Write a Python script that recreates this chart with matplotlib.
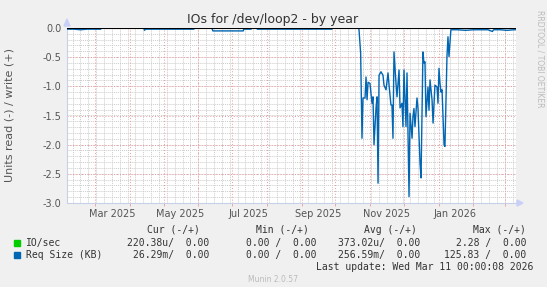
import numpy as np
import matplotlib
matplotlib.use('Agg')
import matplotlib.pyplot as plt
from matplotlib.patches import Rectangle

# days counted from the left edge of the graph (2025-02-04), 400 days shown
start = np.datetime64('2025-02-04')
n_days = 400

# Req Size (KB), read side (drawn negative)
req_days = [0, 6, 12, 18, 24, 30, 30.5, 68.5, 69, 70, 80, 90, 100, 113, 113.5,
            129, 130, 140, 150, 157, 157.5, 164, 164.5, 169, 169.5, 185, 200,
            215, 236, 236.5, 259.5,
            260.1, 261.6, 262.8, 263.7, 265.5, 266.4, 267.3, 268.2, 269.9,
            271.7, 272.6, 273.5, 275.3, 276.2, 277.1, 278.0, 279.7, 281.5,
            282.4, 284.2, 286.0, 286.9, 288.6, 289.5, 290.4, 291.3, 293.1,
            294.0, 295.8, 296.7, 298.4, 299.3, 300.2, 302.0, 302.9, 304.7,
            305.6, 307.4, 308.2, 309.1, 310.0, 311.8, 312.7, 314.5, 315.4,
            317.1, 318.0, 318.9, 319.8, 321.6, 322.5, 323.4, 325.2, 326.1,
            327.8, 329.6, 330.5, 331.4, 332.3, 333.2, 334.1, 335.9, 336.7,
            338.5, 339.4, 340.3,
            342, 348, 355, 362, 368, 375, 379, 380, 386, 392, 398, 400]
req_read = [0.02, 0.02, 0.03, 0.02, 0.02, 0.02, 0, 0, 0.04, 0.02, 0.02, 0.02,
            0.02, 0.02, 0, 0, 0.05, 0.05, 0.05, 0.05, 0.02, 0.02, 0, 0, 0.02,
            0.02, 0.02, 0.02, 0.02, 0, 0,
            0.02, 0.43, 1.89, 1.20, 1.20, 0.84, 1.23, 0.93, 0.95,
            1.29, 1.18, 2.00, 1.37, 1.18, 2.66, 0.81, 0.75, 0.81,
            0.98, 1.06, 0.77, 0.98, 1.32, 1.32, 1.89, 0.41, 0.95,
            1.18, 0.72, 1.37, 1.29, 1.69, 0.72, 1.69, 0.77, 2.89,
            1.46, 1.89, 1.52, 1.38, 1.69, 1.20, 1.38, 2.32, 2.57,
            0.41, 0.60, 0.58, 1.52, 1.01, 1.41, 0.89, 1.23, 1.63,
            0.98, 1.01, 1.29, 0.69, 0.95, 1.10, 1.06, 2.00, 2.03,
            0.49, 0.15, 0.49,
            0.03, 0.03, 0.04, 0.03, 0.03, 0.03, 0.06, 0.03, 0.03, 0.04, 0.03, 0.03]

# IO/sec, read side (mostly hidden behind the zero line)
io_days = [0, 289, 290, 291, 302.5, 303.5, 304.5, 400]
io_read = [0, 0, 0.01, 0, 0, 0.01, 0, 0]

y_ticks = [0.0, -0.5, -1.0, -1.5, -2.0, -2.5, -3.0]
month_labels = ['Mar 2025', 'May 2025', 'Jul 2025', 'Sep 2025', 'Nov 2025', 'Jan 2026']

legend_rows = [
    ('IO/sec', '#00CC00', '220.38u/  0.00', '0.00 /  0.00', '373.02u/  0.00', '2.28 /  0.00'),
    ('Req Size (KB)', '#0066B3', '26.29m/  0.00', '0.00 /  0.00', '256.59m/  0.00', '125.83 /  0.00'),
]

W, H = 547, 287
fig = plt.figure(figsize=(W / 100, H / 100), dpi=100)
fig.patch.set_facecolor('#F0F0F0')
ax = fig.add_axes([67 / W, 1 - 203 / H, (516 - 67) / W, 175 / H])
ax.set_facecolor('#FFFFFF')

# grid: weekly minor, monthly major
months = np.arange(np.datetime64('2025-03'), np.datetime64('2026-04'), dtype='datetime64[M]')
month_days = (months.astype('datetime64[D]') - start).astype(float)
for d in np.arange(5, n_days, 7):
    ax.axvline(d, color='#CCCCCC', lw=0.7, ls=(0, (1, 1)), zorder=0)
for v in np.arange(-2.9, 0, 0.1):
    ax.axhline(v, color='#CCCCCC', lw=0.7, ls=(0, (1, 1)), zorder=0)
for d in month_days:
    ax.axvline(d, color='#EE9999', lw=0.7, ls=(0, (1, 2)), zorder=0.5)
for v in y_ticks[1:-1]:
    ax.axhline(v, color='#EE9999', lw=0.7, ls=(0, (1, 2)), zorder=0.5)

ax.plot(io_days, -np.array(io_read), color='#00CC00', lw=1, zorder=2)
ax.plot(req_days, -np.array(req_read), color='#0066B3', lw=1, zorder=3)
ax.axhline(0, color='black', lw=0.8, zorder=4)

ax.set_xlim(0, n_days)
ax.set_ylim(-3.0, 0.0)
ax.set_yticks(y_ticks, ['%.1f' % v for v in y_ticks])
label_pos = month_days[::2][:len(month_labels)] + 15
ax.set_xticks(label_pos, month_labels)
ax.tick_params(axis='both', length=0, labelsize=7, labelcolor='#555555', pad=4)
ax.set_xticks(month_days, minor=True)
ax.tick_params(axis='x', which='minor', length=2, color='#EE9999', direction='out')
for s in ['top', 'right']:
    ax.spines[s].set_visible(False)
for s in ['left', 'bottom']:
    ax.spines[s].set_color('#C8D0E8')
    ax.spines[s].set_linewidth(0.8)

# small arrowheads at the axis ends
fig.add_artist(plt.Polygon([[64 / W, 1 - 26 / H], [70 / W, 1 - 26 / H], [67 / W, 1 - 19 / H]],
                           closed=True, color='#C8D0F8', transform=fig.transFigure))
fig.add_artist(plt.Polygon([[517 / W, 1 - 200 / H], [517 / W, 1 - 206 / H], [523 / W, 1 - 203 / H]],
                           closed=True, color='#C8D0F8', transform=fig.transFigure))

fig.text(273 / W, 1 - 20 / H, 'IOs for /dev/loop2 - by year', ha='center', va='center',
         fontsize=9, color='#333333')
fig.text(10 / W, 1 - 115 / H, 'Units read (-) / write (+)', rotation=90, ha='center',
         va='center', fontsize=8, color='#555555')
fig.text(540 / W, 1 - 10 / H, 'RRDTOOL / TOBI OETIKER', rotation=270, ha='center',
         va='top', fontsize=5.5, color='#BBBBBB')

mono = dict(family='DejaVu Sans Mono', fontsize=7, color='#333333', va='center')
col_right = [200, 309, 417, 526]
headers = ['Cur (-/+)', 'Min (-/+)', 'Avg (-/+)', 'Max (-/+)']
for x, h in zip(col_right, headers):
    fig.text(x / W, 1 - 230 / H, h, ha='right', **mono)
for i, row in enumerate(legend_rows):
    y = 243 + i * 12
    name, color = row[0], row[1]
    fig.add_artist(Rectangle((14 / W, 1 - (y + 3) / H), 6 / W, 6 / H, color=color,
                             transform=fig.transFigure))
    fig.text(26 / W, 1 - y / H, name, ha='left', **mono)
    for x, val in zip([209, 316, 420, 526], row[2:]):
        fig.text(x / W, 1 - y / H, val, ha='right', **mono)
fig.text(533 / W, 1 - 267 / H, 'Last update: Wed Mar 11 00:00:08 2026', ha='right', **mono)
fig.text(273 / W, 1 - 280 / H, 'Munin 2.0.57', ha='center', va='center', fontsize=5.5,
         color='#BBBBBB')

fig.savefig('out.png', dpi=100, facecolor=fig.get_facecolor())
